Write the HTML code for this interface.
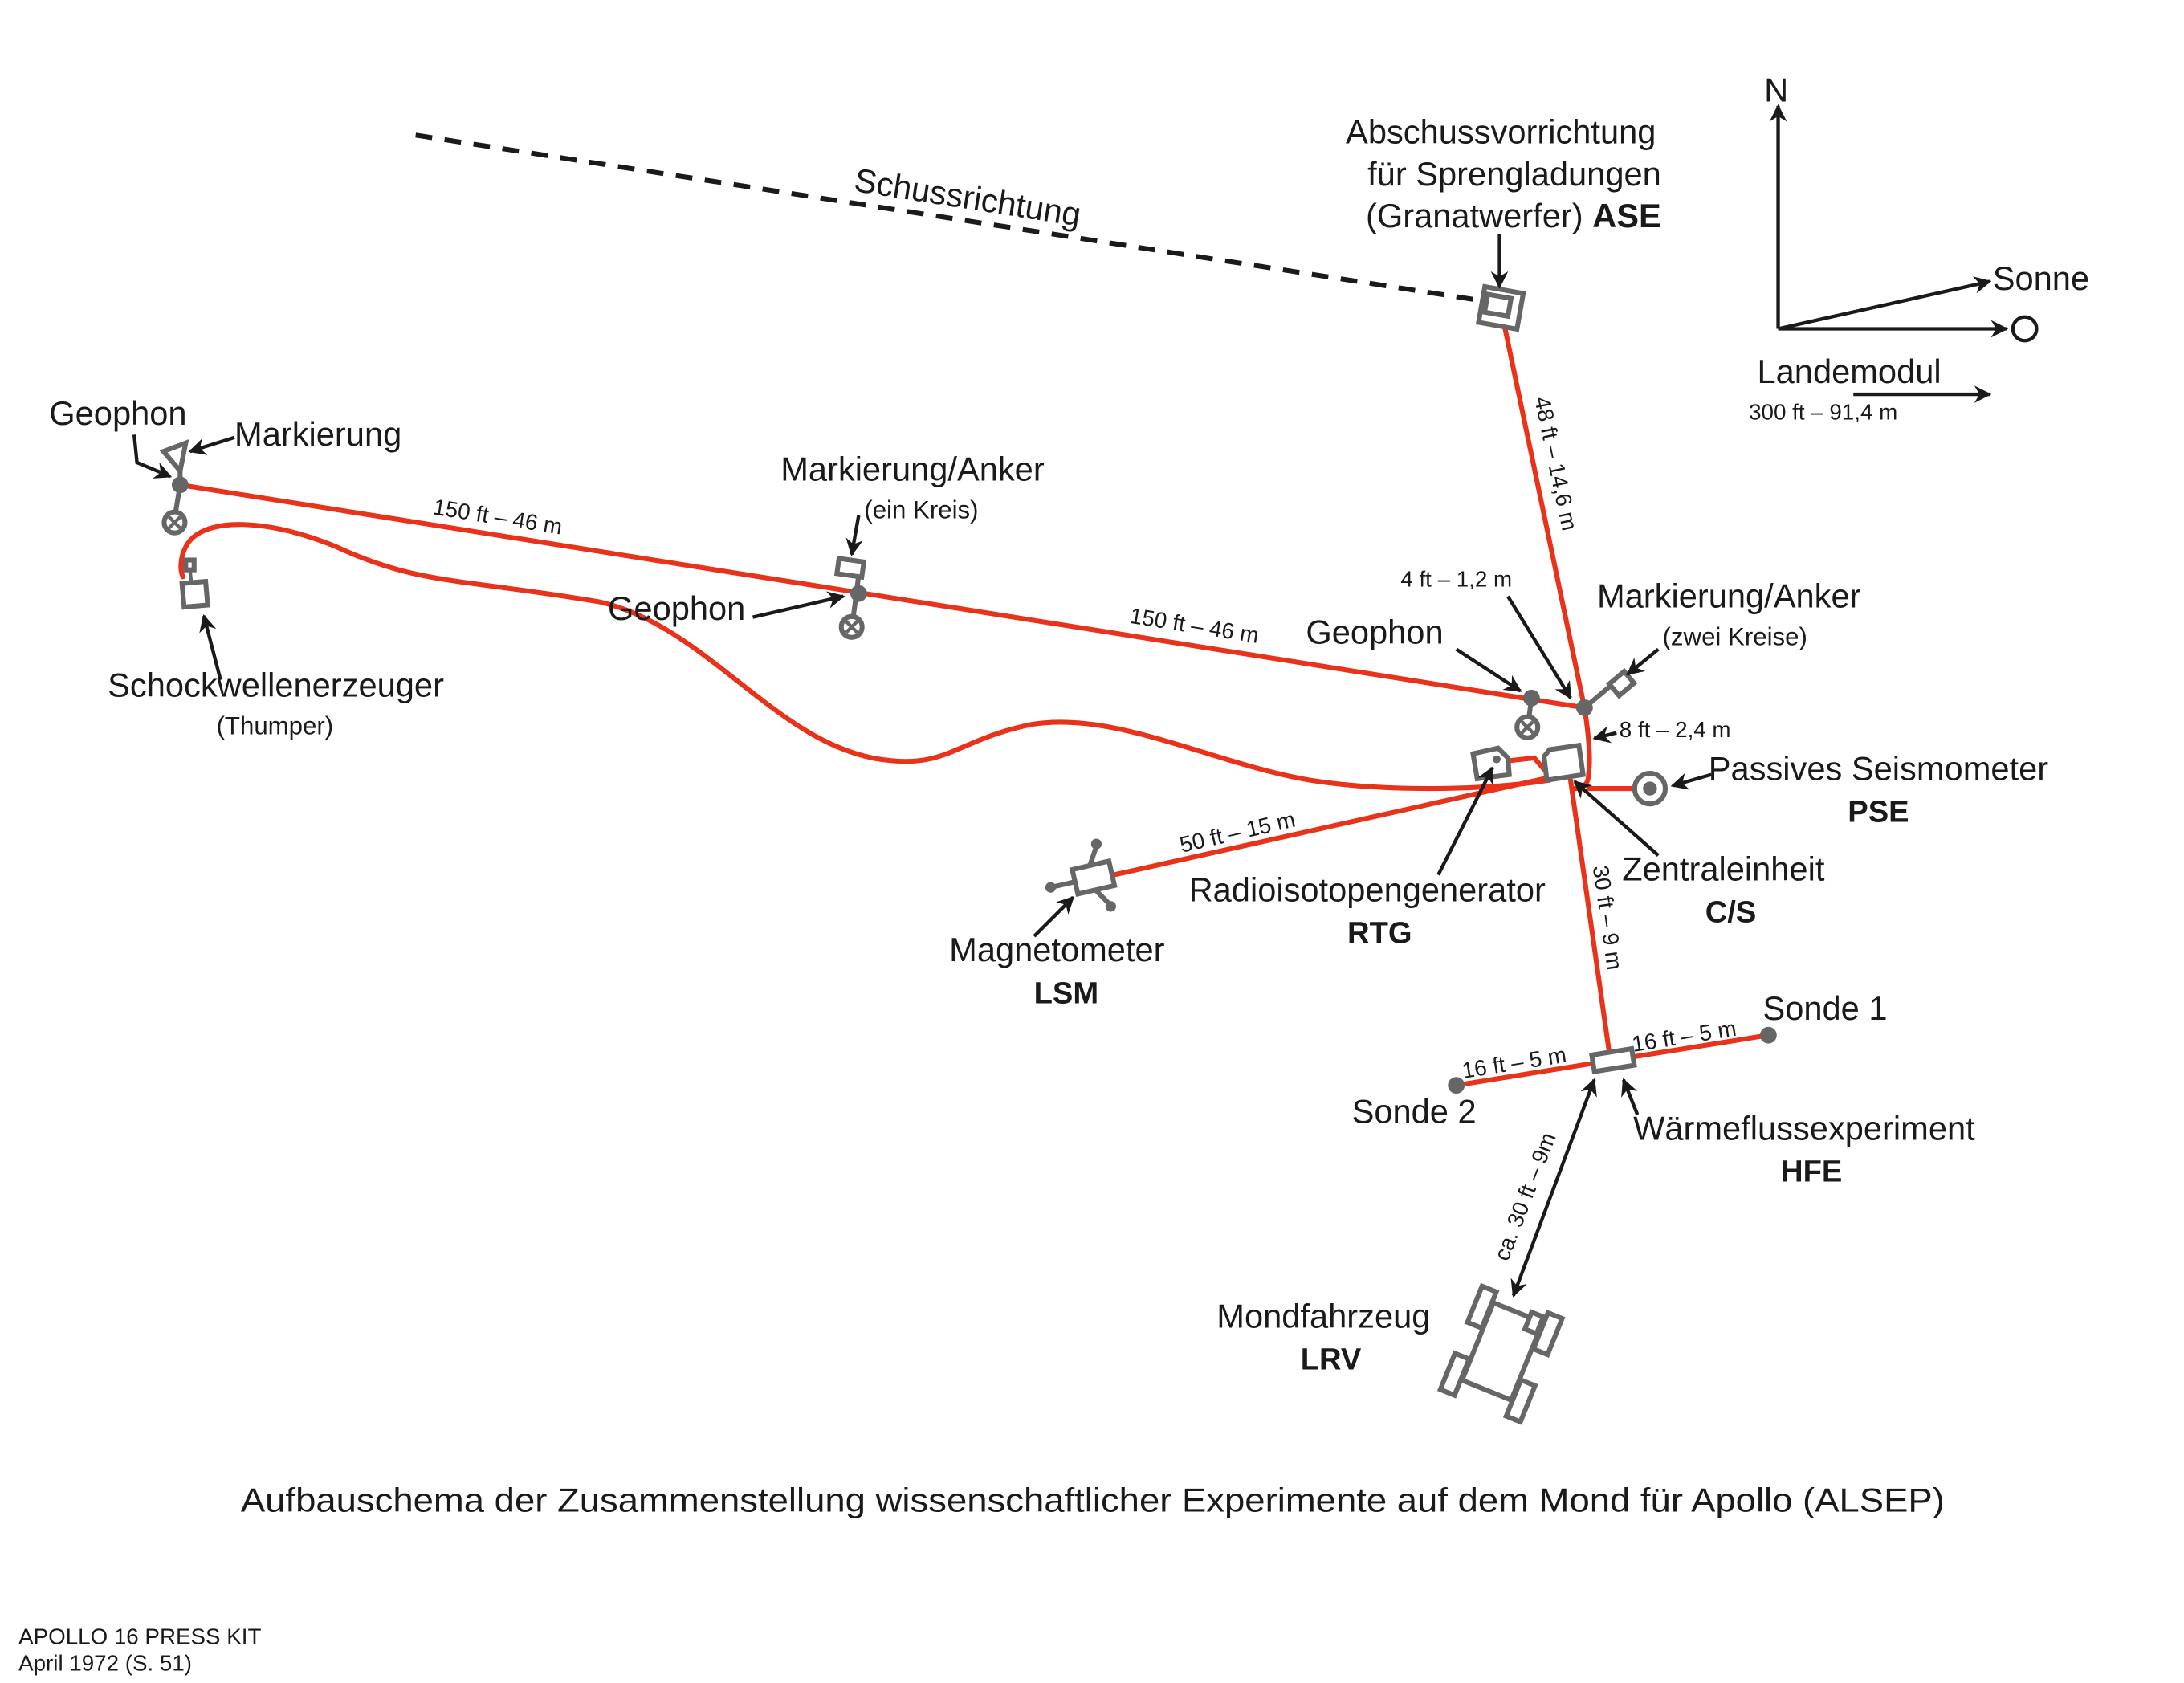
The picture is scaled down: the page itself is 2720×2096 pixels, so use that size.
<!DOCTYPE html>
<html><head><meta charset="utf-8"><style>
html,body{margin:0;padding:0;background:#fff}
svg{display:block}
text{font-family:"Liberation Sans",sans-serif;fill:#1a1a1a}
.l{font-size:24px}
.s{font-size:16px}
.p{font-size:18px}
.b{font-size:22px;font-weight:bold}
</style></head><body>
<svg width="2720" height="2096" viewBox="0 0 1567 1208" xmlns="http://www.w3.org/2000/svg">
<defs>
<marker id="a" viewBox="0 0 10 10" refX="9" refY="5" markerWidth="5" markerHeight="5" orient="auto-start-reverse"><path d="M0,0 L10,5 L0,10 L3,5 z" fill="#1a1a1a"/></marker>
</defs>
<rect width="1567" height="1208" fill="#fff"/>

<path d="M298,97 L1058,215" stroke="#1a1a1a" stroke-width="3.5" stroke-dasharray="12,9" fill="none"/>
<text class="l" transform="translate(612,137) rotate(8.9)">Schussrichtung</text>

<g stroke="#e8321a" stroke-width="3.5" fill="none" stroke-linecap="round">
<path d="M129,348 L1137,508"/>
<path d="M1080,236 L1137,508"/>
<path d="M1137,508 Q1142,540 1140,555 Q1140,566 1130,566"/>
<path d="M1140,566 L1172,566"/>
<path d="M1112,558 L790,630"/>
<path d="M1127,560 L1155,757"/>
<path d="M1045,779 L1269,743"/>
<path d="M1083,546 L1101,544 L1112,557"/>
<path d="M1112,560 C1060,568 990,568 940,560 C870,548 800,510 740,520 C690,530 680,550 640,546 C560,540 510,450 430,432 C330,415 300,420 240,392 C190,372 150,372 136,388 C128,398 129,410 131,414"/>
</g>

<g stroke="#666" stroke-width="3.5" fill="#fff">
<g transform="translate(1077,221) rotate(10)"><rect x="-14" y="-13" width="28" height="26"/><rect x="-11" y="-8" width="17" height="13"/></g>
<line x1="129" y1="348" x2="125" y2="372"/>
<polygon points="117,324 133,318 129,338" />
<line x1="129" y1="338" x2="129" y2="348"/>
<circle cx="125" cy="375" r="7.5"/>
<path d="M121,371 L129,379 M129,371 L121,379" stroke-width="2.5"/>
<rect x="131" y="418" width="17" height="17" transform="rotate(-5 140 426)"/>
<rect x="133" y="402" width="6" height="7"/>
<line x1="136" y1="409" x2="137" y2="418" stroke-width="2.5"/>
<rect x="601" y="402" width="18" height="11" transform="rotate(8 610 408)"/>
<line x1="616" y1="413" x2="612" y2="444"/>
<circle cx="611" cy="450" r="7.5"/>
<path d="M607,446 L615,454 M615,446 L607,454" stroke-width="2.5"/>
<line x1="1099" y1="501" x2="1097" y2="516"/>
<circle cx="1096" cy="522" r="7.5"/>
<path d="M1092,518 L1100,526 M1100,518 L1092,526" stroke-width="2.5"/>
<line x1="1137" y1="508" x2="1156" y2="492"/>
<rect x="1157" y="485" width="14" height="11" transform="rotate(-40 1164 491)"/>
<path d="M1057,541 L1075,537 L1082,544 L1083,556 L1060,559 z"/>
<path d="M1112,538 L1133,535 L1136,556 L1110,560 L1108,543 z"/>
<circle cx="1184" cy="566" r="11"/>
<g transform="translate(784,630) rotate(-13)">
<line x1="-12" y1="0" x2="-30" y2="0"/><line x1="0" y1="-9" x2="8" y2="-22"/><line x1="0" y1="9" x2="8" y2="22"/>
<rect x="-13" y="-9" width="27" height="18"/></g>
<rect x="1143" y="755" width="29" height="12" transform="rotate(-9 1157 761)"/>
<g transform="translate(1078,970) rotate(22)">
<rect x="-19" y="-30" width="38" height="60" fill="none"/>
<rect x="-31" y="-38" width="11" height="28"/>
<rect x="20" y="-38" width="11" height="28"/>
<rect x="-31" y="14" width="11" height="28"/>
<rect x="20" y="14" width="11" height="28"/>
<rect x="9" y="-34" width="9" height="13"/>
</g>
</g>
<g fill="#666">
<circle cx="129" cy="348" r="6"/>
<circle cx="616" cy="426" r="6"/>
<circle cx="1099" cy="501" r="6"/>
<circle cx="1137" cy="508" r="6"/>
<circle cx="1074" cy="545" r="2.8"/>
<circle cx="1184" cy="566" r="5"/>
<circle cx="1045" cy="779" r="6"/>
<circle cx="1269" cy="743" r="6"/>
<g transform="translate(784,630) rotate(-13)">
<circle cx="-31" cy="0" r="3.8"/><circle cx="8" cy="-23" r="3.8"/><circle cx="8" cy="23" r="3.8"/>
</g>
</g>

<g stroke="#1a1a1a" stroke-width="2.5" fill="none" marker-end="url(#a)">
<path d="M1076,168 L1076,206"/>
<path d="M1276,236 L1276,76"/>
<path d="M1276,236 L1428,202"/>
<path d="M1276,236 L1440,236"/>
<path d="M1330,283 L1428,283"/>
<path d="M96,312 L98,332 L122,342"/>
<path d="M168,314 L136,324"/>
<path d="M158,488 L146,442"/>
<path d="M616,370 L611,398"/>
<path d="M540,443 L605,428"/>
<path d="M1045,466 L1091,496"/>
<path d="M1082,428 L1127,501"/>
<path d="M1190,466 L1168,484"/>
<path d="M1160,526 L1144,530"/>
<path d="M1228,556 L1200,564"/>
<path d="M1190,614 L1130,561"/>
<path d="M1032,628 L1071,551"/>
<path d="M742,672 L770,644"/>
<path d="M1175,800 L1165,775"/>
<path d="M1086,930 L1144,775" marker-start="url(#a)"/>
</g>
<circle cx="1453" cy="236" r="8.5" fill="none" stroke="#1a1a1a" stroke-width="2.5"/>

<text class="l" x="1077" y="103" text-anchor="middle">Abschussvorrichtung</text>
<text class="l" x="1192" y="133" text-anchor="end">für Sprengladungen</text>
<text class="l" x="1192" y="163" text-anchor="end">(Granatwerfer) <tspan font-weight="bold">ASE</tspan></text>
<text class="l" x="1266" y="73">N</text>
<text class="l" x="1430" y="208">Sonne</text>
<text class="l" x="1261" y="275">Landemodul</text>
<text class="s" x="1255" y="301">300 ft – 91,4 m</text>
<text class="s" transform="translate(1101,286) rotate(78)">48 ft – 14,6 m</text>

<text class="l" x="35" y="305">Geophon</text>
<text class="l" x="168" y="320">Markierung</text>
<text class="s" transform="translate(310,369) rotate(9)">150 ft – 46 m</text>
<text class="s" transform="translate(810,447) rotate(9)">150 ft – 46 m</text>
<text class="l" x="560" y="345">Markierung/Anker</text>
<text class="p" x="620" y="372">(ein Kreis)</text>
<text class="l" x="436" y="445">Geophon</text>
<text class="l" x="77" y="500">Schockwellenerzeuger</text>
<text class="p" x="155" y="527">(Thumper)</text>

<text class="s" x="1005" y="421">4 ft – 1,2 m</text>
<text class="l" x="937" y="462">Geophon</text>
<text class="l" x="1146" y="436">Markierung/Anker</text>
<text class="p" x="1193" y="463">(zwei Kreise)</text>
<text class="s" x="1162" y="529">8 ft – 2,4 m</text>
<text class="l" x="1226" y="560">Passives Seismometer</text>
<text class="b" x="1348" y="590" text-anchor="middle">PSE</text>
<text class="l" x="1164" y="632">Zentraleinheit</text>
<text class="b" x="1242" y="662" text-anchor="middle">C/S</text>
<text class="l" x="853" y="647">Radioisotopengenerator</text>
<text class="b" x="990" y="677" text-anchor="middle">RTG</text>
<text class="s" transform="translate(848,612) rotate(-13)">50 ft – 15 m</text>
<text class="l" x="681" y="690">Magnetometer</text>
<text class="b" x="765" y="720" text-anchor="middle">LSM</text>
<text class="s" transform="translate(1143,622) rotate(82)">30 ft – 9 m</text>
<text class="s" transform="translate(1050,774) rotate(-9)">16 ft – 5 m</text>
<text class="s" transform="translate(1172,755) rotate(-9)">16 ft – 5 m</text>
<text class="l" x="1265" y="732">Sonde 1</text>
<text class="l" x="970" y="806">Sonde 2</text>
<text class="l" x="1172" y="818">Wärmeflussexperiment</text>
<text class="b" x="1300" y="848" text-anchor="middle">HFE</text>
<text class="s" transform="translate(1082,906) rotate(-69)">ca. 30 ft – 9m</text>
<text class="l" x="873" y="953">Mondfahrzeug</text>
<text class="b" x="955" y="983" text-anchor="middle">LRV</text>

<text class="l" x="784" y="1085" text-anchor="middle" textLength="1223" lengthAdjust="spacingAndGlyphs">Aufbauschema der Zusammenstellung wissenschaftlicher Experimente auf dem Mond für Apollo (ALSEP)</text>
<text class="s" x="13" y="1180">APOLLO 16 PRESS KIT</text>
<text class="s" x="13" y="1199">April 1972 (S. 51)</text>
</svg>
</body></html>
